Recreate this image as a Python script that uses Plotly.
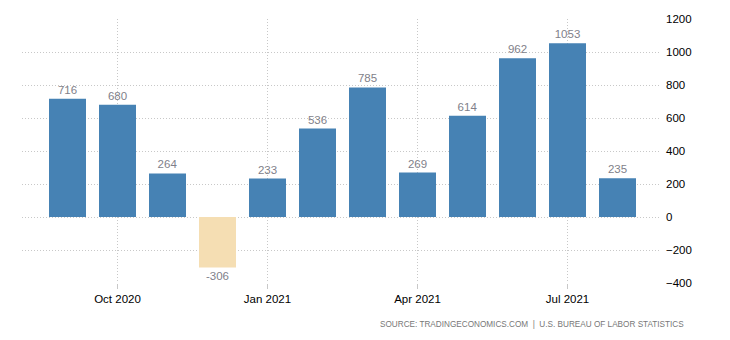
import plotly.graph_objects as go

months = ["Sep 2020", "Oct 2020", "Nov 2020", "Dec 2020", "Jan 2021", "Feb 2021",
          "Mar 2021", "Apr 2021", "May 2021", "Jun 2021", "Jul 2021", "Aug 2021"]
values = [716, 680, 264, -306, 233, 536, 785, 269, 614, 962, 1053, 235]
tick_months = ["Oct 2020", "Jan 2021", "Apr 2021", "Jul 2021"]
y_ticks = [-400, -200, 0, 200, 400, 600, 800, 1000, 1200]

colors = ["#4682B4" if v >= 0 else "#F5DEB3" for v in values]

fig = go.Figure(go.Bar(
    x=months, y=values, marker=dict(color=colors, line=dict(width=0)),
    width=0.74,
    text=[str(v) for v in values], textposition="outside",
    textfont=dict(family="Liberation Sans", size=11.5, color="#7f7f8a"),
    cliponaxis=False, hoverinfo="skip",
))

fig.update_layout(
    width=730, height=340,
    margin=dict(l=22, r=70, t=19, b=57),
    plot_bgcolor="white", paper_bgcolor="white",
    showlegend=False,
    xaxis=dict(
        type="category", range=[-0.91, 11.85],
        tickmode="array", tickvals=tick_months, ticktext=tick_months,
        showgrid=True, gridcolor="#c8c8c8", griddash="1px,2px", gridwidth=1,
        ticks="outside", ticklen=5, tickcolor="#c8c8c8",
        tickfont=dict(family="Liberation Sans", size=11.5, color="#000000"),
        showline=False, zeroline=False,
    ),
    yaxis=dict(
        side="right", range=[-400, 1200],
        tickmode="array", tickvals=y_ticks,
        showgrid=True, gridcolor="#c8c8c8", griddash="1px,2px", gridwidth=1,
        zeroline=False, showline=False, ticks="",
        ticklabelstandoff=5,
        tickfont=dict(family="Liberation Sans", size=11.5, color="#000000"),
    ),
    annotations=[dict(
        text="SOURCE: TRADINGECONOMICS.COM  |  U.S. BUREAU OF LABOR STATISTICS",
        xref="paper", yref="paper", x=(686 - 22) / 638, y=-(324 - 283) / 264,
        xanchor="right", yanchor="middle", showarrow=False,
        font=dict(family="Liberation Sans", size=8.2, color="#777777"),
    )],
)

fig.write_html("out.html")
